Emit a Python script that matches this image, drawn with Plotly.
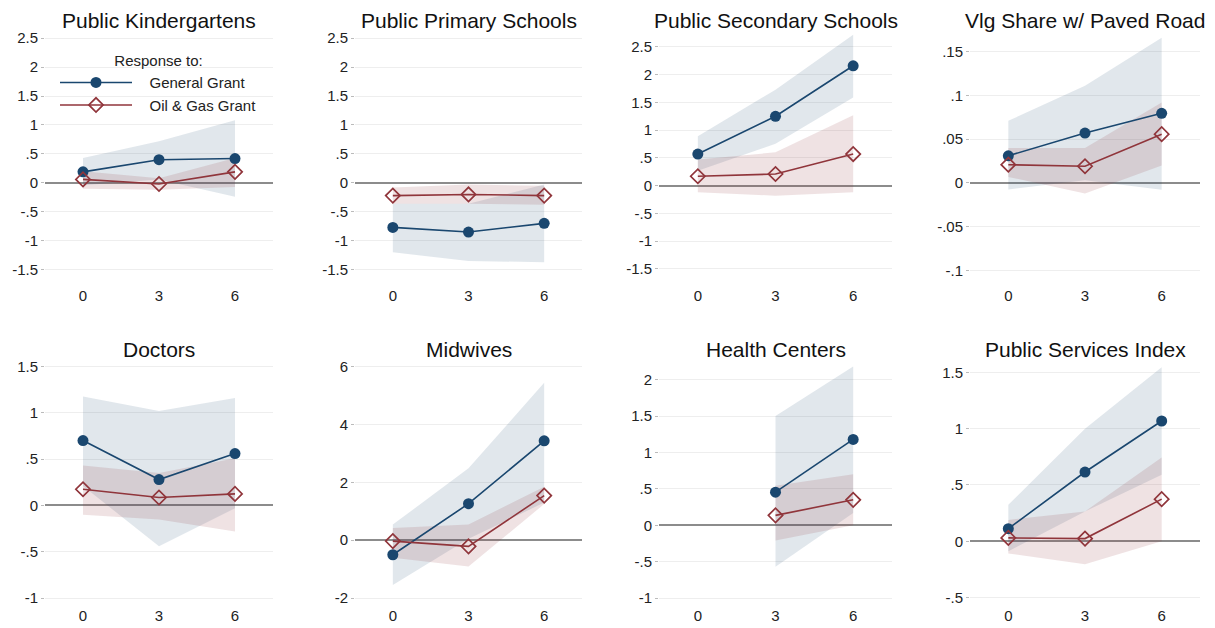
import plotly.graph_objects as go

# ---------------- data ----------------
horizons = [0, 3, 6]
x_tick_labels = ["0", "3", "6"]

panel_titles = [
    "Public Kindergartens", "Public Primary Schools", "Public Secondary Schools",
    "Vlg Share w/ Paved Road", "Doctors", "Midwives", "Health Centers",
    "Public Services Index",
]
series_names = ["General Grant", "Oil & Gas Grant"]
legend_title = "Response to:"

# General grant: point estimates and CI bounds (one list per panel, values at horizons 0, 3, 6)
gen_est = [
    [0.19, 0.40, 0.42],
    [-0.77, -0.85, -0.70],
    [0.57, 1.25, 2.16],
    [0.031, 0.057, 0.0795],
    [0.70, 0.28, 0.56],
    [-0.50, 1.26, 3.43],
    [None, 0.455, 1.18],
    [0.112, 0.615, 1.068],
]
gen_lo = [
    [-0.04, 0.06, -0.24],
    [-1.20, -1.35, -1.37],
    [0.27, 0.755, 1.59],
    [-0.0076, 0.003, -0.008],
    [0.21, -0.44, -0.03],
    [-1.54, 0.05, 1.30],
    [None, -0.57, 0.17],
    [-0.088, 0.265, 0.59],
]
gen_hi = [
    [0.43, 0.72, 1.08],
    [-0.36, -0.36, -0.03],
    [0.89, 1.73, 2.72],
    [0.071, 0.111, 0.166],
    [1.175, 1.02, 1.16],
    [0.54, 2.48, 5.43],
    [None, 1.50, 2.18],
    [0.324, 1.00, 1.545],
]

# Oil & gas grant
oil_est = [
    [0.06, -0.02, 0.19],
    [-0.22, -0.20, -0.22],
    [0.17, 0.21, 0.57],
    [0.0208, 0.019, 0.0557],
    [0.175, 0.086, 0.125],
    [-0.03, -0.21, 1.54],
    [None, 0.137, 0.35],
    [0.03, 0.024, 0.374],
]
oil_lo = [
    [-0.10, -0.12, -0.07],
    [-0.36, -0.36, -0.38],
    [-0.12, -0.18, -0.12],
    [0.0068, -0.0121, 0.020],
    [-0.10, -0.15, -0.28],
    [-0.60, -0.91, 1.25],
    [None, -0.21, 0.0],
    [-0.108, -0.205, 0.0],
]
oil_hi = [
    [0.20, 0.08, 0.43],
    [-0.08, -0.03, -0.05],
    [0.47, 0.60, 1.27],
    [0.0398, 0.040, 0.092],
    [0.43, 0.35, 0.51],
    [0.42, 0.54, 1.85],
    [None, 0.545, 0.70],
    [0.19, 0.265, 0.745],
]

# y tick values / labels for each panel
y_tick_vals = [
    [-1.5, -1, -0.5, 0, 0.5, 1, 1.5, 2, 2.5],
    [-1.5, -1, -0.5, 0, 0.5, 1, 1.5, 2, 2.5],
    [-1.5, -1, -0.5, 0, 0.5, 1, 1.5, 2, 2.5],
    [-0.1, -0.05, 0, 0.05, 0.1, 0.15],
    [-1, -0.5, 0, 0.5, 1, 1.5],
    [-2, 0, 2, 4, 6],
    [-1, -0.5, 0, 0.5, 1, 1.5, 2],
    [-0.5, 0, 0.5, 1, 1.5],
]
y_tick_text = [
    ["-1.5", "-1", "-.5", "0", ".5", "1", "1.5", "2", "2.5"],
    ["-1.5", "-1", "-.5", "0", ".5", "1", "1.5", "2", "2.5"],
    ["-1.5", "-1", "-.5", "0", ".5", "1", "1.5", "2", "2.5"],
    ["-.1", "-.05", "0", ".05", ".1", ".15"],
    ["-1", "-.5", "0", ".5", "1", "1.5"],
    ["-2", "0", "2", "4", "6"],
    ["-1", "-.5", "0", ".5", "1", "1.5", "2"],
    ["-.5", "0", ".5", "1", "1.5"],
]
y_ranges = [
    [-1.768, 2.592],
    [-1.768, 2.592],
    [-1.793, 2.754],
    [-0.117, 0.1716],
    [-1.075, 1.583],
    [-2.239, 6.263],
    [-1.096, 2.288],
    [-0.567, 1.621],
]
x_range = [-1.5, 7.5]

# ---------------- styling ----------------
W, H = 1215, 628
NAVY = "#1a476f"
MAROON = "#90353b"
NAVY_FILL = "rgba(26,71,111,0.13)"
MAROON_FILL = "rgba(144,53,59,0.14)"
FONT = "Liberation Sans, Arial, sans-serif"
PAD = "\u00a0\u00a0\u00a0"

col_px = [(45, 273), (355, 582), (659, 892), (970, 1200)]
row_px = [(30, 284), (358, 606)]


def xdom(c):
    return [col_px[c][0] / W, col_px[c][1] / W]


def ydom(r):
    return [1 - row_px[r][1] / H, 1 - row_px[r][0] / H]


fig = go.Figure()
layout = {}
annotations = []


def band(vals_lo, vals_hi):
    xs = [h for h, a in zip(horizons, vals_lo) if a is not None]
    lo = [a for a in vals_lo if a is not None]
    hi = [b for b in vals_hi if b is not None]
    return xs + xs[::-1], hi + lo[::-1]


for i in range(8):
    ax = "" if i == 0 else str(i + 1)
    xref, yref = "x" + ax, "y" + ax
    bx, by = band(gen_lo[i], gen_hi[i])
    fig.add_trace(go.Scatter(x=bx, y=by, fill="toself", fillcolor=NAVY_FILL,
                             line=dict(width=0), mode="lines", showlegend=False,
                             hoverinfo="skip", xaxis=xref, yaxis=yref))
    bx, by = band(oil_lo[i], oil_hi[i])
    fig.add_trace(go.Scatter(x=bx, y=by, fill="toself", fillcolor=MAROON_FILL,
                             line=dict(width=0), mode="lines", showlegend=False,
                             hoverinfo="skip", xaxis=xref, yaxis=yref))

for i in range(8):
    ax = "" if i == 0 else str(i + 1)
    xref, yref = "x" + ax, "y" + ax
    fig.add_trace(go.Scatter(
        x=horizons, y=gen_est[i], mode="lines+markers", name=PAD + series_names[0],
        line=dict(color=NAVY, width=1.6),
        marker=dict(symbol="circle", size=11, color=NAVY),
        showlegend=(i == 0), xaxis=xref, yaxis=yref, connectgaps=False))
    fig.add_trace(go.Scatter(
        x=horizons, y=oil_est[i], mode="lines+markers", name=PAD + series_names[1],
        line=dict(color=MAROON, width=1.6),
        marker=dict(symbol="diamond-open", size=11, color=MAROON,
                    line=dict(width=1.7, color=MAROON)),
        showlegend=(i == 0), xaxis=xref, yaxis=yref, connectgaps=False))

for i in range(8):
    r, c = divmod(i, 4)
    ax = "" if i == 0 else str(i + 1)
    layout["xaxis" + ax] = dict(
        domain=xdom(c), range=x_range, anchor="y" + ax,
        tickmode="array", tickvals=horizons, ticktext=x_tick_labels,
        showgrid=False, zeroline=False, showline=False, ticks="",
        tickfont=dict(size=15, color="#222222", family=FONT), fixedrange=True,
    )
    layout["yaxis" + ax] = dict(
        domain=ydom(r), range=y_ranges[i], anchor="x" + ax,
        tickmode="array", tickvals=y_tick_vals[i], ticktext=y_tick_text[i],
        showgrid=True, gridcolor="#eeeeee", gridwidth=1,
        zeroline=True, zerolinecolor="#8c8c8c", zerolinewidth=1.6,
        showline=False, ticks="outside", ticklen=3, tickcolor="#bbbbbb",
        tickwidth=1, tickfont=dict(size=15, color="#222222", family=FONT),
        fixedrange=True,
    )
    cx = (col_px[c][0] + col_px[c][1]) / 2 / W
    ty = 1 - (18 if r == 0 else 349) / H
    annotations.append(dict(
        text=panel_titles[i], x=cx, y=ty, xref="paper", yref="paper",
        xanchor="center", yanchor="middle", showarrow=False,
        font=dict(size=21, color="#111111", family=FONT)))

fig.update_layout(
    width=W, height=H, margin=dict(l=0, r=0, t=0, b=0),
    paper_bgcolor="white", plot_bgcolor="white",
    font=dict(family=FONT, size=15, color="#222222"),
    annotations=annotations,
    legend=dict(
        x=55 / W, y=1 - 44 / H, xanchor="left", yanchor="top",
        bgcolor="rgba(0,0,0,0)", font=dict(size=15, family=FONT, color="#222222"),
        title=dict(text=legend_title, side="top center",
                   font=dict(size=15, family=FONT, color="#222222")),
        itemwidth=72, tracegroupgap=0,
    ),
    **layout,
)

fig.write_html("out.html", config={"displayModeBar": False},
               post_script="document.body.style.margin='0px';")
